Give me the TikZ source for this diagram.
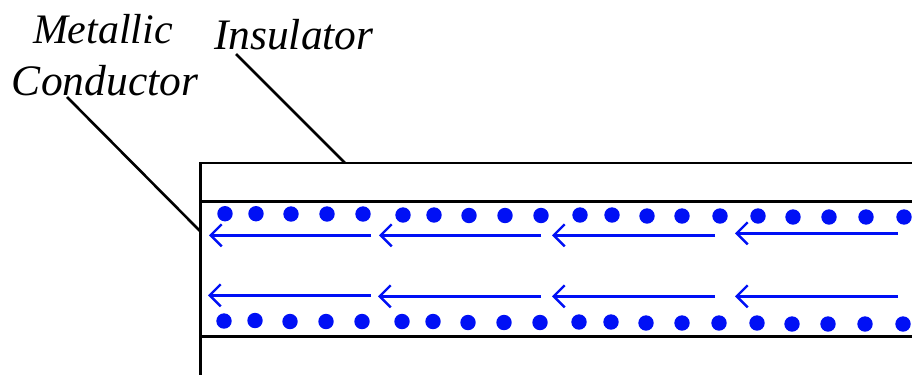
\documentclass[tikz,border=0pt]{standalone}
\usepackage{fontspec}
\setmainfont{Liberation Serif}
\usetikzlibrary{arrows.meta}
\definecolor{eblue}{RGB}{0,16,245}
\tikzset{
  wall/.style={draw=black,line width=2.6pt},
  leader/.style={draw=black,line width=2.6pt},
  flow/.style={draw=eblue,line width=2.6pt,-{Straight Barb[length=11pt,width=22pt,line width=2.4pt]}},
  lbl/.style={anchor=base west,inner sep=0pt,outer sep=0pt,font=\itshape\fontsize{43.5}{43.5}\selectfont},
  carrier/.style={fill=eblue}
}
\begin{document}
\begin{tikzpicture}[x=1pt,y=-1pt]
\useasboundingbox (0,0) rectangle (912,375);
\node[lbl,font=\itshape\fontsize{42}{42}\selectfont] (metallic) at (33,43) {Metallic};
\node[lbl] (conductor) at (12,95) {Conductor};
\node[lbl] (insulator) at (214,49) {Insulator};
\coordinate (insFrom) at (236,54);
\coordinate (insTo) at (345,163);
\coordinate (conFrom) at (67,97);
\coordinate (conTo) at (200,231);
\draw[leader] (insFrom) -- (insTo);
\draw[leader] (conFrom) -- (conTo);
\draw[wall] (912,163) -- (200.5,163) -- (200.5,375);
\draw[wall] (200.5,201.5) -- (912,201.5);
\draw[wall] (200.5,336.5) -- (912,336.5);
\foreach \x/\y in {225/213.7,256/213.7,291/214,327/214,363/214,403/215,434/215,469/215.5,505/215.5,541/215.5,580/215,612/215,647/216,682/216,720/216,758/216,793/217,829/217,866/217,904/217}
  \fill[carrier] (\x,\y) circle (7.7pt);
\foreach \x/\y in {224/321,255/320.5,290/321.5,326/321.5,362/321.5,402/321.5,433/321.5,468/322.5,504/322.5,540/322.5,579/322,611/322,646/323,682/323,719/323,757/323,792/324,828/324,865/324,903/324}
  \fill[carrier] (\x,\y) circle (7.7pt);
\foreach \a/\b/\y in {371/209/235.3,541/379/235.3,715/552/235.3,898/735/233.3,
                      371/208/295.3,541/378/296.3,715/552/296.3,898/735/296.3}{
  \coordinate (s) at (\a,\y);
  \coordinate (e) at (\b,\y);
  \draw[flow] (s) -- (e);
}
\end{tikzpicture}
\end{document}
